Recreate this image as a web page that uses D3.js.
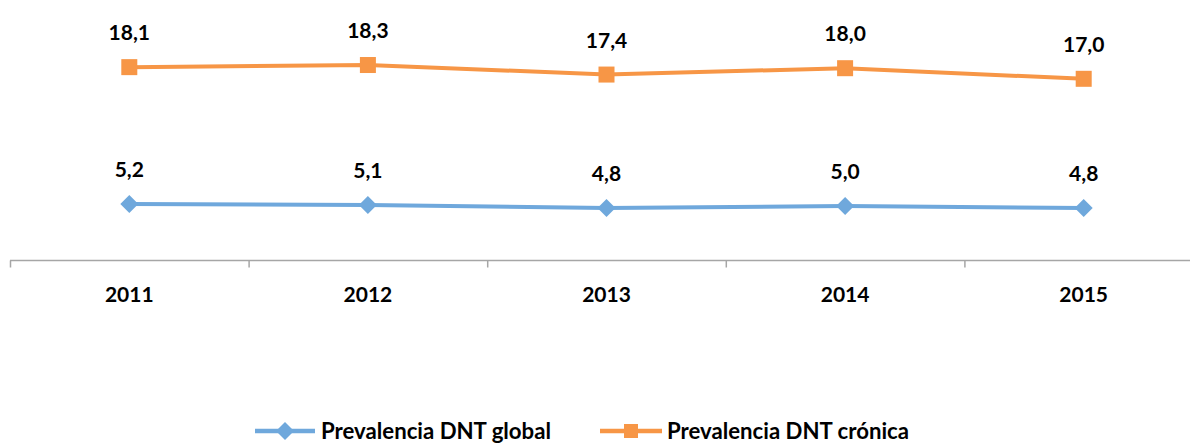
<!DOCTYPE html>
<html><head><meta charset="utf-8">
<script src="https://cdn.jsdelivr.net/npm/d3@7"></script>
<style>body{margin:0;background:#fff}svg{display:block}text{font-family:Lato,"Open Sans",sans-serif;font-weight:bold;fill:#000}</style>
</head><body><svg id="c" width="1190" height="444"></svg>
<script>
const years = ["2011","2012","2013","2014","2015"];
const globalVals = [5.2, 5.1, 4.8, 5.0, 4.8];
const cronicaVals = [18.1, 18.3, 17.4, 18.0, 17.0];
const seriesNames = ["Prevalencia DNT global","Prevalencia DNT crónica"];
const colors = ["#6FA8DC","#F79646"];

const svg = d3.select("#c");
const x = d3.scaleBand().domain(years).range([10, 1203]);
const y = d3.scaleLinear().domain([0, 20]).range([259, 47]);
const fmt = v => v.toFixed(1).replace(".", ",");

// axis
const ax = svg.append("g").attr("transform","translate(0,260.5)");
ax.append("line").attr("x1",10).attr("x2",1203).attr("stroke","#A6A6A6").attr("stroke-width",1.5);
const bounds = years.map(d => x(d)).concat([x.range()[1]]);
ax.selectAll("line.t").data(bounds).enter().append("line").attr("class","t")
  .attr("x1",d=>d+0.5).attr("x2",d=>d+0.5).attr("y1",0).attr("y2",7).attr("stroke","#A6A6A6").attr("stroke-width",1.5);
ax.selectAll("text").data(years).enter().append("text")
  .attr("x", d => x(d) + x.bandwidth()/2).attr("y", 41).attr("text-anchor","middle")
  .style("font-size","21px").text(d=>d);

const series = [
  {name: seriesNames[0], vals: globalVals, color: colors[0], sym: "diamond"},
  {name: seriesNames[1], vals: cronicaVals, color: colors[1], sym: "rect"}
];
const cx = d => x(d) + x.bandwidth()/2;
const line = d3.line().x((d,i)=>cx(years[i])).y(d=>y(d));
series.forEach(s => {
  svg.append("path").attr("d", line(s.vals)).attr("fill","none").attr("stroke", s.color).attr("stroke-width",4);
  s.vals.forEach((v,i) => {
    const px = cx(years[i]), py = y(v);
    if (s.sym === "rect") {
      svg.append("rect").attr("x",px-8).attr("y",py-8).attr("width",16).attr("height",16).attr("fill",s.color);
    } else {
      svg.append("path").attr("d",`M${px-9},${py}L${px},${py-9}L${px+9},${py}L${px},${py+9}Z`).attr("fill",s.color);
    }
    svg.append("text").attr("x",px).attr("y",py-27).attr("text-anchor","middle").style("font-size","21px").text(fmt(v));
  });
});

// legend
const leg = [{x0:255, x1:315, tx:321, w:230}, {x0:600, x1:662, tx:667, w:242}];
series.forEach((s,i) => {
  const ly = 431, L = leg[i];
  svg.append("line").attr("x1",L.x0).attr("x2",L.x1).attr("y1",ly).attr("y2",ly).attr("stroke",s.color).attr("stroke-width",4.5);
  const mx = (L.x0+L.x1)/2;
  if (s.sym === "rect") svg.append("rect").attr("x",mx-7).attr("y",ly-7).attr("width",14).attr("height",14).attr("fill",s.color);
  else svg.append("path").attr("d",`M${mx-9},${ly}L${mx},${ly-9}L${mx+9},${ly}L${mx},${ly+9}Z`).attr("fill",s.color);
  svg.append("text").attr("x",L.tx).attr("y",439).style("font-size","22px")
    .attr("textLength",L.w).attr("lengthAdjust","spacingAndGlyphs").text(s.name);
});
</script></body></html>
